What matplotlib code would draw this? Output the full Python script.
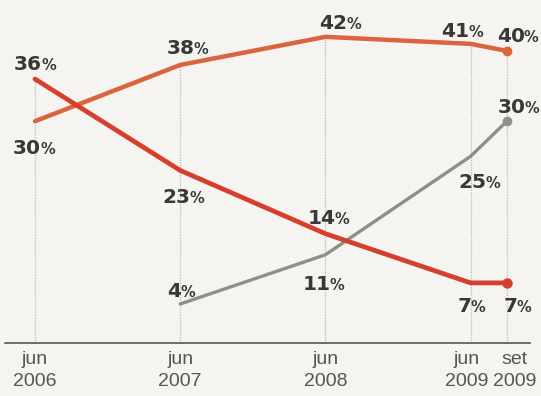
import matplotlib
matplotlib.use("Agg")
import matplotlib.pyplot as plt

# months counted from jun 2006
months = [0, 12, 24, 36, 39]
tick_labels = ['jun\n2006', 'jun\n2007', 'jun\n2008', 'jun\n2009', 'set\n2009']

orange_vals = [30, 38, 42, 41, 40]
red_vals = [36, 23, 14, 7, 7]
gray_months = [12, 24, 36, 39]
gray_vals = [4, 11, 25, 30]

# label offsets in pixels (dx, dy), up is positive
orange_off = [(-1, -26), (7, 18), (15, 15), (-8, 14), (11, 16)]
red_off = [(0, 16), (3, -26), (3, 17), (0, -22), (10, -22)]
gray_off = [(0, 14), (-2, -28), (9, -25), (12, 15)]
tick_dx = [0, 0, 0, -4, 8]

c_orange = '#d9643e'
c_red = '#d63f2c'
c_gray = '#8e8e8e'
c_text = '#383838'
bg = '#f6f4f0'

fig = plt.figure(figsize=(5.41, 3.96), dpi=100, facecolor=bg)
ax = fig.add_axes([0, 1 - 343/396, 1, 343/396], facecolor=bg)
ax.set_xlim(-2.893, 41.82)
ax.set_ylim(-1.55, 47.24)
for s in ax.spines.values():
    s.set_visible(False)
ax.set_yticks([])
ax.set_xticks([])

# date labels under the baseline
for m, lab, dx in zip(months, tick_labels, tick_dx):
    ax.annotate(lab, (m, 0), xycoords=('data', 'axes fraction'), xytext=(dx, -8),
                textcoords='offset pixels', ha='center', va='top', fontsize=14,
                color='#555555', family='Liberation Sans', linespacing=1.4)

# baseline
ax.axhline(-1.55, xmin=5/541, xmax=530/541, color='#555555', lw=1.2, clip_on=False)

# vertical guides up to the highest series at each date
tops = [max(o, r) for o, r in zip(orange_vals, red_vals)]
ax.vlines(months, -1.55, tops, colors='#b9b9b9', lw=0.9, linestyles=(0, (1, 1)), zorder=1)

ax.plot(months, orange_vals, color=c_orange, lw=3.2, solid_capstyle='round', solid_joinstyle='round', zorder=3)
ax.plot(months, red_vals, color=c_red, lw=3.4, solid_capstyle='round', solid_joinstyle='round', zorder=4)
ax.plot(gray_months, gray_vals, color=c_gray, lw=2.4, solid_capstyle='round', solid_joinstyle='round', zorder=2)
ax.plot(months[-1], orange_vals[-1], 'o', color=c_orange, ms=6, zorder=5)
ax.plot(months[-1], red_vals[-1], 'o', color=c_red, ms=6.5, zorder=5)
ax.plot(gray_months[-1], gray_vals[-1], 'o', color=c_gray, ms=6, zorder=5)


def pct_label(x, v, off):
    dx, dy = off
    num = str(v)
    split = 7 if len(num) == 2 else 1
    ax.annotate(num, (x, v), xytext=(dx + split, dy - 7), textcoords='offset pixels',
                ha='right', va='baseline', fontsize=14.5, fontweight='bold', color=c_text,
                family='DejaVu Sans', zorder=6)
    ax.annotate('%', (x, v), xytext=(dx + split - 1, dy - 7), textcoords='offset pixels',
                ha='left', va='baseline', fontsize=10.5, fontweight='bold', color=c_text,
                family='DejaVu Sans', zorder=6)


for m, v, o in zip(months, orange_vals, orange_off):
    pct_label(m, v, o)
for m, v, o in zip(months, red_vals, red_off):
    pct_label(m, v, o)
for m, v, o in zip(gray_months, gray_vals, gray_off):
    pct_label(m, v, o)

fig.savefig('out.png', dpi=100, facecolor=bg)
